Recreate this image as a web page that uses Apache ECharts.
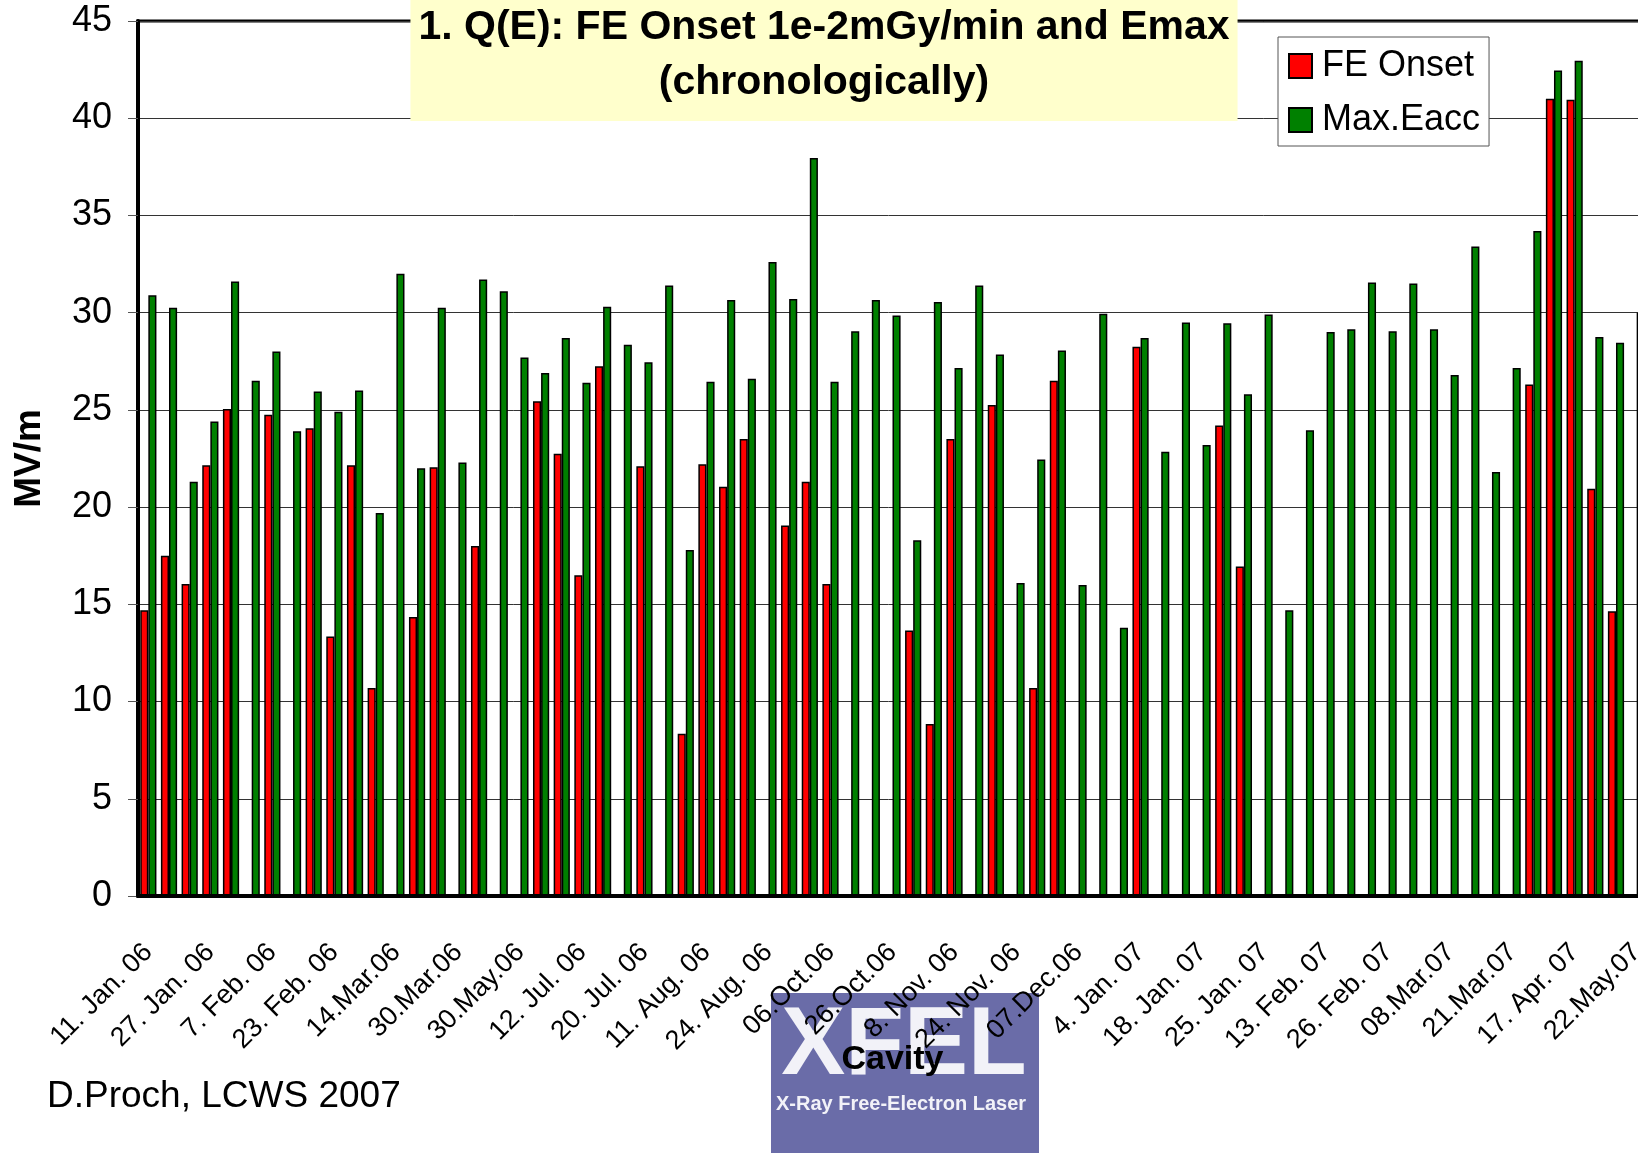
<!DOCTYPE html>
<html>
<head>
<meta charset="utf-8">
<title>Q(E): FE Onset and Emax</title>
<script src="https://cdn.jsdelivr.net/npm/echarts@6/dist/echarts.min.js"></script>
<style>
    html, body { margin: 0; padding: 0; background: #fff; }
    #chart { width: 1638px; height: 1153px; }
</style>
</head>
<body>
<div id="chart"></div>
<script>
// date labels, one every third cavity
const tickLabels = ['11. Jan. 06', '27. Jan. 06', '7. Feb. 06', '23. Feb. 06', '14.Mar.06', '30.Mar.06',
    '30.May.06', '12. Jul. 06', '20. Jul. 06', '11. Aug. 06', '24. Aug. 06', '06.Oct.06', '26.Oct.06',
    '8. Nov. 06', '24. Nov. 06', '07.Dec.06', '4. Jan. 07', '18. Jan. 07', '25. Jan. 07', '13. Feb. 07',
    '26. Feb. 07', '08.Mar.07', '21.Mar.07', '17. Apr. 07', '22.May.07']

// FE onset (null = no field emission seen)
const feOnset = [14.7, 17.5, 16.05, 22.15, 25.05, null, 24.75, null, 24.05, 13.35,
    22.15, 10.7, null, 14.35, 22.05, null, 18.0, null, null, 25.45,
    22.75, 16.5, 27.25, null, 22.1, null, 8.35, 22.2, 21.05, 23.5,
    null, 19.05, 21.3, 16.05, null, null, null, 13.65, 8.85, 23.5,
    null, 25.25, null, 10.7, 26.5, null, null, null, 28.25, null,
    null, null, 24.2, 16.95, null, null, null, null, null, null,
    null, null, null, null, null, null, null, 26.3, 41.0, 40.95,
    20.95, 14.65, null]

// maximum gradient
const maxEacc = [30.9, 30.25, 21.3, 24.4, 31.6, 26.5, 28.0, 23.9, 25.95, 24.9,
    26.0, 19.7, 32.0, 22.0, 30.25, 22.3, 31.7, 31.1, 27.7, 26.9,
    28.7, 26.4, 30.3, 28.35, 27.45, 31.4, 17.8, 26.45, 30.65, 26.6,
    32.6, 30.7, 37.95, 26.45, 29.05, 30.65, 29.85, 18.3, 30.55, 27.15,
    31.4, 27.85, 16.1, 22.45, 28.05, 16.0, 29.95, 13.8, 28.7, 22.85,
    29.5, 23.2, 29.45, 25.8, 29.9, 14.7, 23.95, 29.0, 29.15, 31.55,
    29.05, 31.5, 29.15, 26.8, 33.4, 21.8, 27.15, 34.2, 42.45, 42.95,
    28.75, 28.45, 30.0]

const yTicks = { min: 0, max: 45, step: 5 }

const cavities = maxEacc.map((v, i) => String(i + 1))
const font = 'Liberation Sans, Arial, sans-serif'

let mycharts = echarts.init(document.getElementById('chart'))
mycharts.setOption({
    animation: false,
    backgroundColor: '#fff',
    title: {
        text: '1. Q(E): FE Onset 1e-2mGy/min and Emax\n(chronologically)',
        left: 816,
        top: 0,
        textAlign: 'center',
        padding: [0, 8, 11, 8],
        backgroundColor: '#FFFFCC',
        textStyle: {
            fontFamily: font,
            fontSize: 41,
            fontWeight: 'bold',
            color: '#000',
            lineHeight: 55
        }
    },
    legend: {
        data: ['FE Onset', 'Max.Eacc'],
        orient: 'vertical',
        left: 1278,
        top: 37,
        padding: [11, 9, 8, 10],
        itemGap: 18,
        itemWidth: 23,
        itemHeight: 24,
        icon: 'rect',
        backgroundColor: '#fff',
        borderColor: '#555',
        borderWidth: 1,
        textStyle: {
            fontFamily: font,
            fontSize: 36,
            color: '#000',
            padding: [0, 0, 0, 5]
        }
    },
    grid: {
        left: 138,
        top: 21,
        width: 1509,
        height: 875,
        show: true,
        borderColor: '#000',
        borderWidth: 3,
        backgroundColor: 'transparent',
        outerBoundsMode: 'none'
    },
    xAxis: {
        type: 'category',
        data: cavities,
        z: 10,
        name: 'Cavity',
        nameLocation: 'middle',
        nameGap: 147,
        nameMoveOverlap: false,
        nameTextStyle: {
            fontFamily: font,
            fontSize: 34,
            fontWeight: 'bold',
            color: '#000'
        },
        axisLine: { lineStyle: { color: '#000', width: 4 } },
        axisTick: { interval: 0, length: 9, lineStyle: { color: '#555' } },
        axisLabel: {
            interval: 2,
            rotate: 45,
            margin: 52,
            fontFamily: font,
            fontSize: 27,
            color: '#000',
            formatter: function (v, i) {
                return tickLabels[i / 3] || ''
            }
        }
    },
    yAxis: {
        type: 'value',
        min: yTicks.min,
        max: yTicks.max,
        interval: yTicks.step,
        name: 'MV/m',
        nameLocation: 'middle',
        nameGap: 90,
        nameMoveOverlap: false,
        nameTextStyle: {
            fontFamily: font,
            fontSize: 37,
            fontWeight: 'bold',
            color: '#000'
        },
        axisLine: { show: true, lineStyle: { color: '#000', width: 4 } },
        axisTick: { show: true, length: 10, lineStyle: { color: '#555' } },
        axisLabel: {
            margin: 26,
            fontFamily: font,
            fontSize: 36,
            color: '#000'
        },
        splitLine: { show: true, lineStyle: { color: '#333', width: 1 } }
    },
    series: [
        {
            name: 'FE Onset',
            type: 'bar',
            data: feOnset,
            barWidth: 8.1,
            barGap: '0%',
            itemStyle: { color: '#FF0000', borderColor: '#000', borderWidth: 1.5 }
        },
        {
            name: 'Max.Eacc',
            type: 'bar',
            data: maxEacc,
            barWidth: 8.1,
            barGap: '0%',
            itemStyle: { color: '#008000', borderColor: '#000', borderWidth: 1.5 }
        }
    ],
    graphic: [
        {
            type: 'rect',
            z: -5,
            shape: { x: 771, y: 993, width: 268, height: 160 },
            style: { fill: '#6A6CA8' }
        },
        {
            type: 'text',
            z: -4,
            x: 904,
            y: 1048,
            style: {
                text: 'XFEL',
                fill: '#F2F2F8',
                font: 'bold 96px ' + font,
                textAlign: 'center',
                textVerticalAlign: 'middle'
            }
        },
        {
            type: 'text',
            z: -4,
            x: 901,
            y: 1104,
            style: {
                text: 'X-Ray Free-Electron Laser',
                fill: '#F2F2F8',
                font: 'bold 20px ' + font,
                textAlign: 'center',
                textVerticalAlign: 'middle'
            }
        },
        {
            type: 'text',
            x: 47,
            y: 1097,
            style: {
                text: 'D.Proch, LCWS 2007',
                fill: '#000',
                font: '37px ' + font,
                textVerticalAlign: 'middle'
            }
        }
    ]
})
</script>
</body>
</html>
